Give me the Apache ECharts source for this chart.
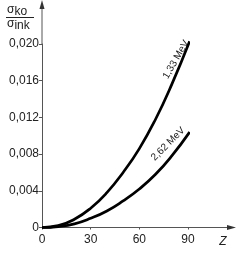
<!DOCTYPE html>
<html><head><meta charset="utf-8">
<script src="https://cdn.jsdelivr.net/npm/echarts@6/dist/echarts.min.js"></script>
<style>html,body{margin:0;padding:0;background:#fff}#c{width:240px;height:256px}</style>
</head><body><div id="c"></div>
<script>
const zValues = [0, 10, 20, 30, 40, 50, 60, 70, 80, 91];
const ratio133 = [0, 0.0002, 0.0009, 0.0021, 0.0038, 0.0060, 0.0086, 0.0118, 0.0156, 0.0203];
const ratio262 = [0, 0.0001, 0.0004, 0.0010, 0.0018, 0.0029, 0.0042, 0.0058, 0.0078, 0.0104];
const xTicks = [0, 30, 60, 90];
const yTicks = [0, 0.004, 0.008, 0.012, 0.016, 0.020];
const seriesNames = ['1,33 MeV', '2,62 MeV'];

const chart = echarts.init(document.getElementById('c'));
const font = 'Liberation Sans, Arial, sans-serif';
const axisColor = '#555';
function fmtY(v){ if (v === 0) return '0'; return v.toFixed(3).replace('.', ','); }

chart.setOption({
  animation: false,
  grid: {left: 42, top: 44, width: 146, height: 183.5, containLabel: false},
  xAxis: {
    type: 'value', min: 0, max: 90, interval: 30,
    axisLine: {lineStyle: {color: axisColor, width: 1}},
    axisTick: {show: true, length: 2, lineStyle: {color: axisColor}},
    axisLabel: {color: '#222', fontFamily: font, fontSize: 12, margin: 6},
    splitLine: {show: false}
  },
  yAxis: {
    type: 'value', min: 0, max: 0.020, interval: 0.004,
    axisLine: {show: true, lineStyle: {color: axisColor, width: 1}},
    axisTick: {show: true, length: 3, lineStyle: {color: axisColor}},
    axisLabel: {color: '#222', fontFamily: font, fontSize: 12, margin: 3, formatter: fmtY},
    splitLine: {show: false}
  },
  series: [
    {name: seriesNames[0], type: 'line', smooth: true, symbol: 'none', clip: false,
     lineStyle: {color: '#000', width: 2.7}, data: zValues.map((z, i) => [z, ratio133[i]])},
    {name: seriesNames[1], type: 'line', smooth: true, symbol: 'none', clip: false,
     lineStyle: {color: '#000', width: 2.7}, data: zValues.map((z, i) => [z, ratio262[i]])}
  ]
});

const o = chart.convertToPixel({gridIndex: 0}, [0, 0]);
const xe = chart.convertToPixel({gridIndex: 0}, [90, 0.020]);
const l1 = chart.convertToPixel({gridIndex: 0}, [82.6, 0.0183]);
const l2 = chart.convertToPixel({gridIndex: 0}, [77.7, 0.0091]);
const frac = {fontFamily: font, fill: '#222'};
chart.setOption({
  graphic: [
    {type: 'line', shape: {x1: xe[0], y1: o[1], x2: 232, y2: o[1]}, style: {stroke: axisColor, lineWidth: 1}, silent: true},
    {type: 'polygon', shape: {points: [[236, o[1]], [227, o[1] - 2.5], [227, o[1] + 2.5]]}, style: {fill: '#333'}},
    {type: 'line', shape: {x1: o[0], y1: xe[1], x2: o[0], y2: 4}, style: {stroke: axisColor, lineWidth: 1}},
    {type: 'polygon', shape: {points: [[o[0], 0], [o[0] - 2.5, 9], [o[0] + 2.5, 9]]}, style: {fill: '#333'}},
    {type: 'text', x: 223, y: 242, style: {text: 'Z', font: 'italic 12px ' + font, fill: '#222', align: 'center', verticalAlign: 'middle'}},
    {type: 'text', x: 7, y: 10, style: {text: '{s|σ}{b|ko}', verticalAlign: 'middle', rich: {s: Object.assign({font: 'italic 13px ' + font}, frac), b: Object.assign({font: '11px ' + font, padding: [4, 0, 0, 0]}, frac)}}},
    {type: 'line', shape: {x1: 6, y1: 17.5, x2: 34, y2: 17.5}, style: {stroke: '#222', lineWidth: 1}},
    {type: 'text', x: 7, y: 24, style: {text: '{s|σ}{b|ink}', verticalAlign: 'middle', rich: {s: Object.assign({font: 'italic 13px ' + font}, frac), b: Object.assign({font: '11px ' + font, padding: [4, 0, 0, 0]}, frac)}}},
    {type: 'text', x: l1[0], y: l1[1], rotation: 60 * Math.PI / 180, style: {text: seriesNames[0], font: '10px ' + font, fill: '#222', align: 'center', verticalAlign: 'middle'}},
    {type: 'text', x: l2[0], y: l2[1], rotation: 45 * Math.PI / 180, style: {text: seriesNames[1], font: '10px ' + font, fill: '#222', align: 'center', verticalAlign: 'middle'}}
  ]
});
</script></body></html>
